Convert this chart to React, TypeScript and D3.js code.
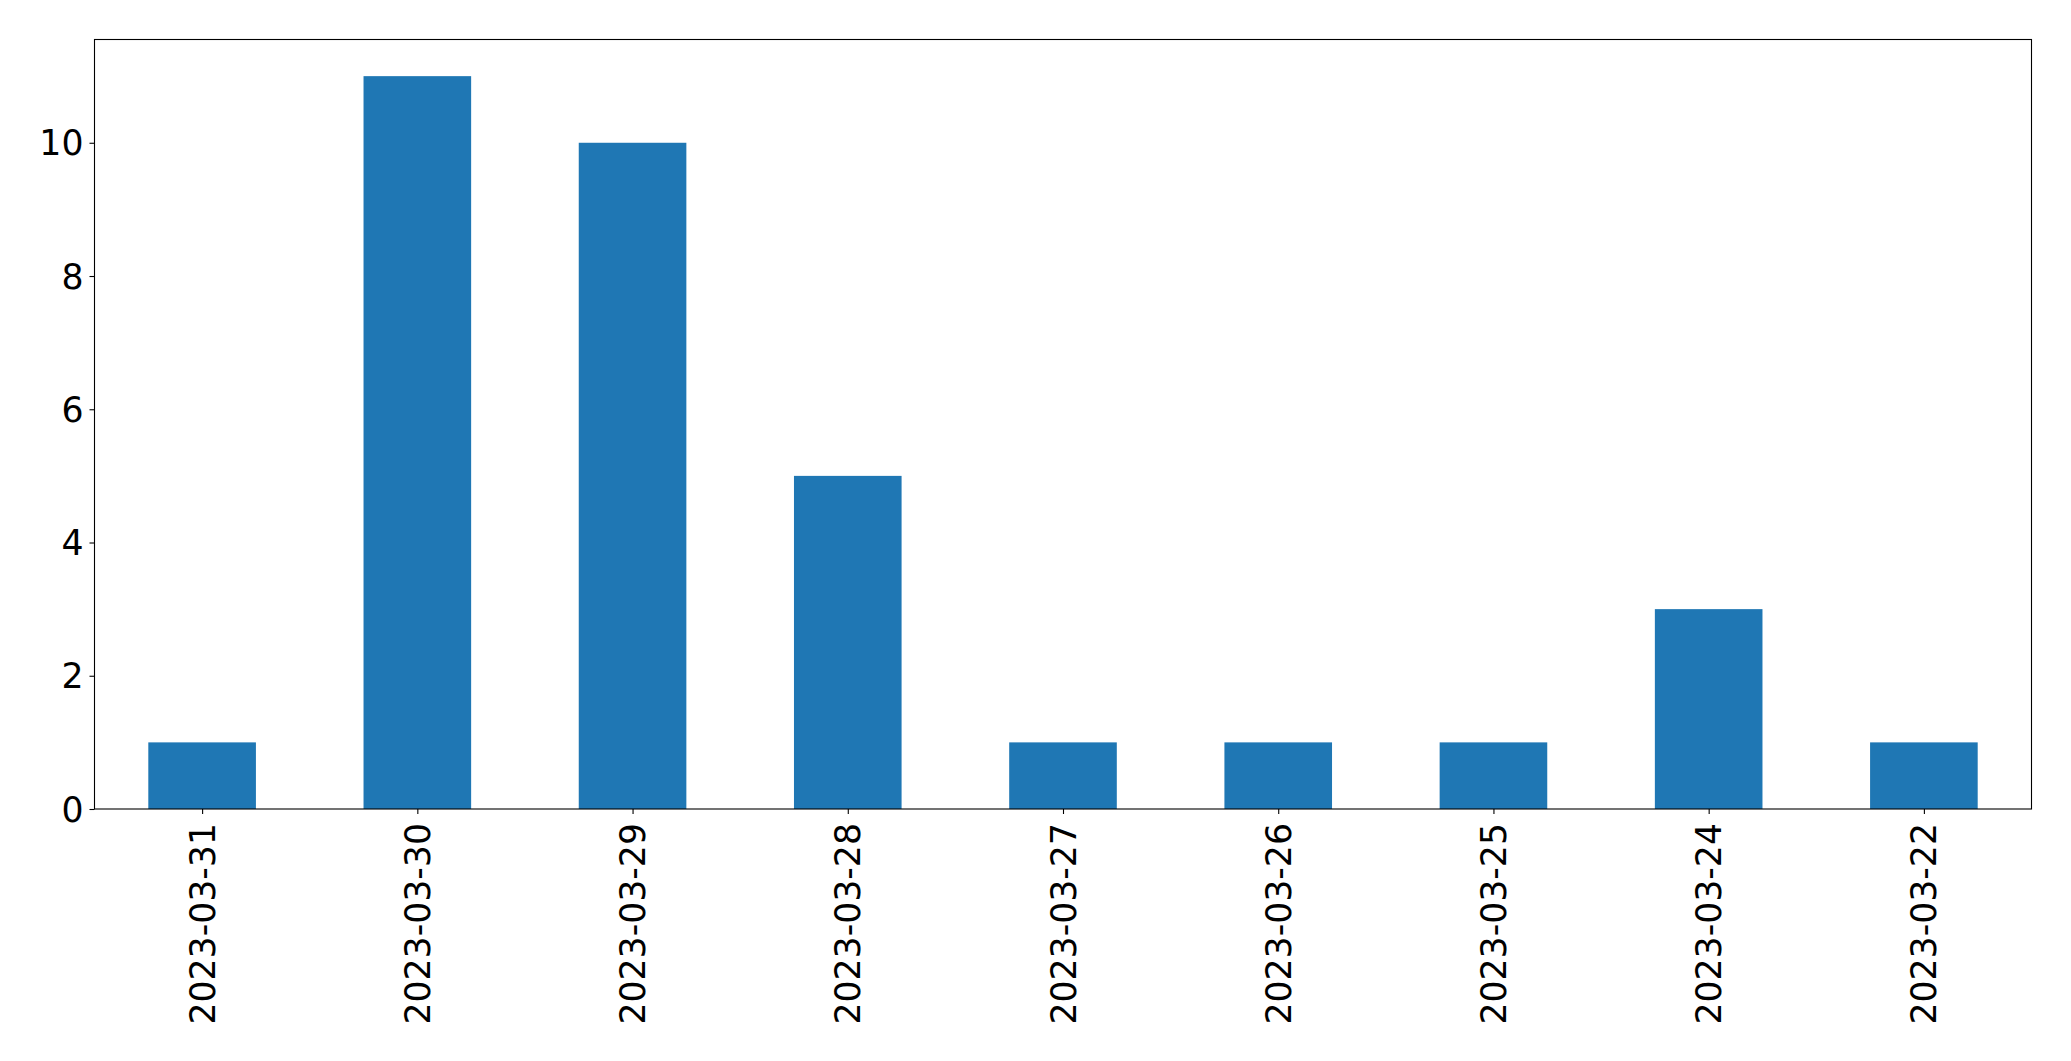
import React, { useEffect, useRef } from 'react';
import * as d3 from 'd3';

const dates: string[] = [
  '2023-03-31',
  '2023-03-30',
  '2023-03-29',
  '2023-03-28',
  '2023-03-27',
  '2023-03-26',
  '2023-03-25',
  '2023-03-24',
  '2023-03-22',
];
const counts: number[] = [1, 11, 10, 5, 1, 1, 1, 3, 1];
const yTicks: number[] = [0, 2, 4, 6, 8, 10];

const App: React.FC = () => {
  const svgRef = useRef<SVGSVGElement>(null);

  useEffect(() => {
    if (!svgRef.current) return;

    const W = 2071;
    const H = 1061;
    const margin = { top: 39.5, right: 39.5, bottom: 252, left: 94.5 };
    const width = W - margin.left - margin.right;
    const height = H - margin.top - margin.bottom;
    const font = 'DejaVu Sans, sans-serif';
    const fontSize = 34.7;

    const root = d3.select(svgRef.current);
    root.selectAll('*').remove();
    root.attr('width', W).attr('height', H);

    const svg = root.append('g').attr('transform', `translate(${margin.left}, ${margin.top})`);

    // matplotlib style: bars at 0..n-1, width 0.5, xlim [-0.5, n-0.5]
    const x = d3
      .scaleLinear()
      .domain([-0.5, dates.length - 0.5])
      .range([0, width]);

    const yMax = d3.max(counts)! * 1.05;
    const y = d3.scaleLinear().domain([0, yMax]).range([height, 0]);

    svg
      .selectAll('rect.bar')
      .data(counts)
      .enter()
      .append('rect')
      .attr('class', 'bar')
      .attr('x', (_d, i) => x(i - 0.25))
      .attr('width', x(0.25) - x(-0.25))
      .attr('y', (d) => y(d))
      .attr('height', (d) => y(0) - y(d))
      .attr('fill', '#1f77b4');

    const xAxis = svg
      .append('g')
      .attr('transform', `translate(0, ${height})`)
      .call(
        d3
          .axisBottom(x)
          .tickValues(dates.map((_d, i) => i))
          .tickFormat((_d, i) => dates[i])
          .tickSize(5)
          .tickPadding(0)
          .tickSizeOuter(0)
      );
    xAxis.select('.domain').remove();
    xAxis.selectAll('line').attr('stroke', '#000').attr('stroke-width', 1.1);
    xAxis
      .selectAll('text')
      .attr('font-family', font)
      .attr('font-size', fontSize)
      .attr('fill', '#000')
      .attr('text-anchor', 'end')
      .attr('dy', null)
      .attr('dominant-baseline', 'central')
      .attr('transform', 'translate(0, 14) rotate(-90)')
      .attr('x', 0)
      .attr('y', 0);

    const yAxis = svg
      .append('g')
      .call(d3.axisLeft(y).tickValues(yTicks).tickSize(5).tickPadding(6).tickSizeOuter(0));
    yAxis.select('.domain').remove();
    yAxis.selectAll('line').attr('stroke', '#000').attr('stroke-width', 1.1);
    yAxis
      .selectAll('text')
      .attr('font-family', font)
      .attr('font-size', fontSize)
      .attr('fill', '#000')
      .attr('dy', null)
      .attr('dominant-baseline', 'central');

    // axes frame
    svg
      .append('rect')
      .attr('x', 0)
      .attr('y', 0)
      .attr('width', width)
      .attr('height', height)
      .attr('fill', 'none')
      .attr('stroke', '#000')
      .attr('stroke-width', 1.1);
  }, []);

  return (
    <div style={{ position: 'absolute', left: 0, top: 0 }}>
      <svg ref={svgRef} style={{ display: 'block', background: '#fff' }}></svg>
    </div>
  );
};

export default App;
